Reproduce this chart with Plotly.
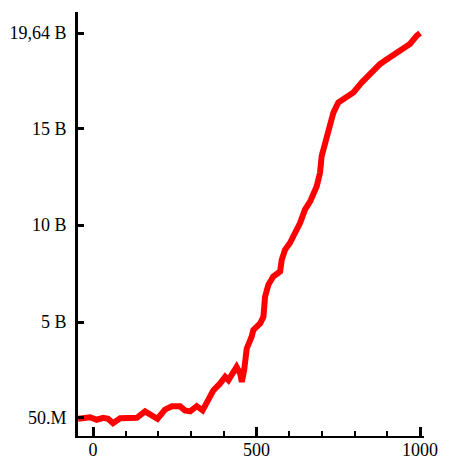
import plotly.graph_objects as go

# data (x index, value in billions)
x_vals = [-46, -9, 11, 31, 46, 61, 83, 134, 159, 174, 197, 220, 241, 266, 281, 297,
          317, 335, 348, 368, 388, 404, 414, 429, 439, 450, 455, 462, 467, 470, 485,
          490, 511, 521, 526, 536, 551, 572, 577, 587, 602, 613, 633, 648, 664, 684,
          694, 699, 709, 720, 735, 750, 771, 796, 822, 847, 878, 908, 939, 969, 990, 1000]
y_vals = [0.01, 0.09, -0.04, 0.06, 0.01, -0.22, 0.04, 0.06, 0.39, 0.27, 0.01, 0.48,
          0.65, 0.65, 0.44, 0.39, 0.66, 0.44, 0.87, 1.48, 1.82, 2.17, 2.0, 2.48, 2.68,
          2.34, 1.91, 2.51, 3.29, 3.64, 4.24, 4.59, 4.93, 5.27, 6.31, 6.92, 7.35, 7.61,
          8.21, 8.73, 9.08, 9.42, 10.11, 10.80, 11.23, 12.01, 12.70, 13.56, 14.26,
          14.95, 15.81, 16.33, 16.59, 16.85, 17.37, 17.80, 18.32, 18.66, 19.01, 19.35,
          19.78, 19.91]

y_tick_vals = [0.05, 5, 10, 15, max(y_vals), 21.0]
y_tick_text = ["50.M", "5 B", "10 B", "15 B", "19,64 B", ""]
x_tick_vals = [0, 500, 1000]
x_tick_text = ["0", "500", "1000"]

font = dict(family="Times New Roman, Liberation Serif, DejaVu Serif, serif", size=18, color="black")

fig = go.Figure(go.Scatter(
    x=x_vals, y=y_vals, mode="lines",
    line=dict(color="#ff0000", width=6, shape="linear"),
    hoverinfo="skip",
))

# page body adds an 8px offset, so the figure is sized to fit the window
fig.update_layout(
    width=441, height=452,
    margin=dict(l=70, r=25, t=4, b=24, autoexpand=False),
    plot_bgcolor="white", paper_bgcolor="white",
    showlegend=False,
    font=font,
)
fig.update_xaxes(
    range=[-46, 1012], automargin=False,
    tickmode="array", tickvals=x_tick_vals, ticktext=x_tick_text,
    ticks="inside", ticklen=9, tickwidth=3, tickcolor="black",
    minor=dict(dtick=100, tick0=0, ticks="inside", ticklen=5, tickwidth=2, tickcolor="black"),
    showline=True, linecolor="black", linewidth=2,
    showgrid=False, zeroline=False,
    tickfont=font, ticklabelstandoff=-4,
)
fig.update_yaxes(
    range=[-0.88, 21.0], automargin=False,
    tickmode="array", tickvals=y_tick_vals, ticktext=y_tick_text,
    ticks="inside", ticklen=6, tickwidth=3, tickcolor="black",
    showline=True, linecolor="black", linewidth=3,
    showgrid=False, zeroline=False,
    tickfont=font, ticklabelstandoff=5,
)

fig.write_html("out.html")
